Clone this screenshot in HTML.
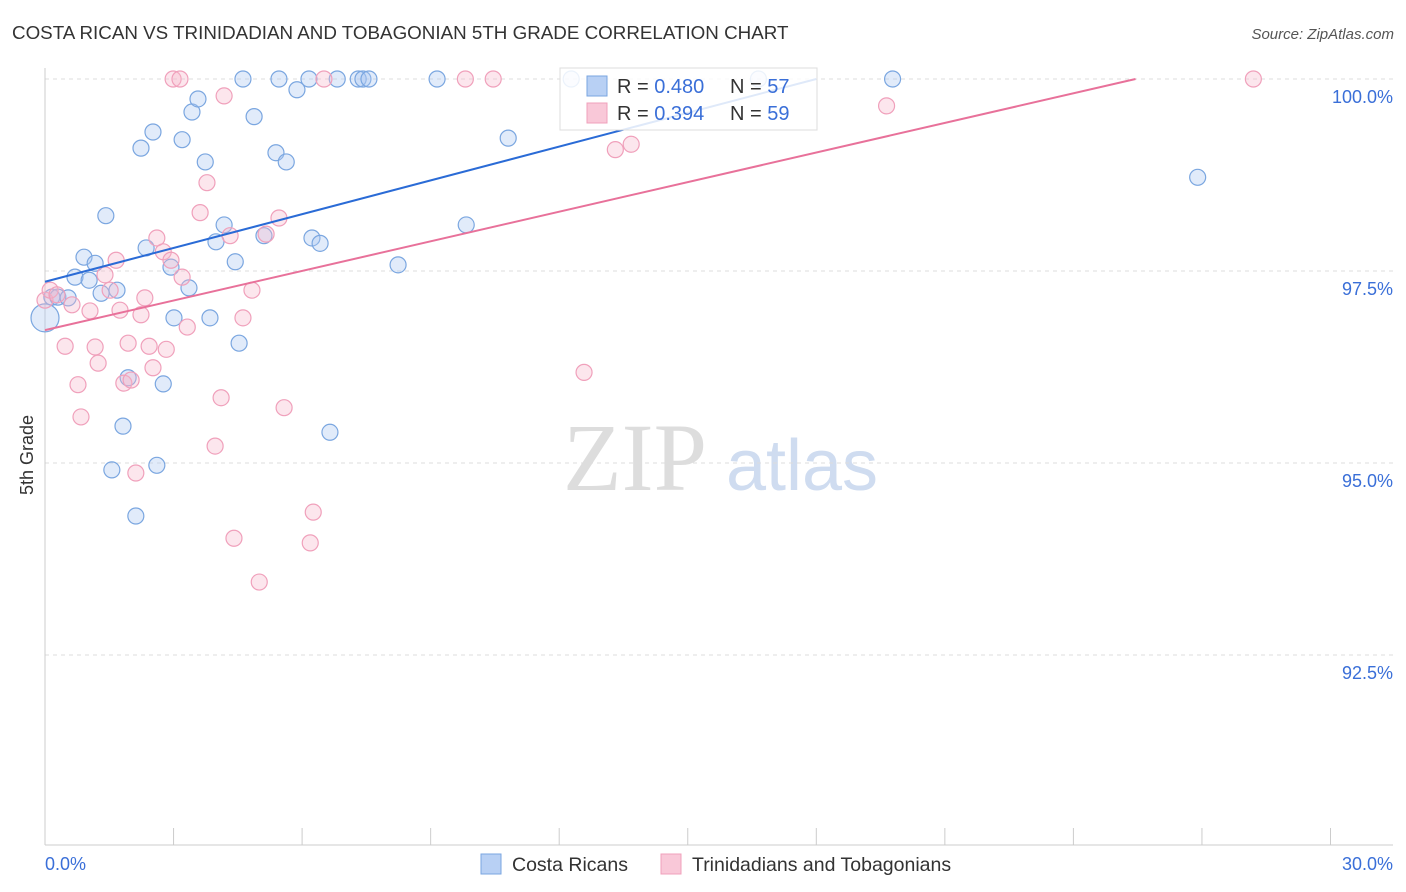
<!DOCTYPE html>
<html><head><meta charset="utf-8"><style>
body{margin:0;background:#fff;font-family:"Liberation Sans",sans-serif;}
#wrap{position:relative;width:1406px;height:892px;overflow:hidden;}
</style></head><body>
<div id="wrap">
<svg id="svg" width="1406" height="892" xmlns="http://www.w3.org/2000/svg">
<text x="12" y="39" font-size="18.8" fill="#333">COSTA RICAN VS TRINIDADIAN AND TOBAGONIAN 5TH GRADE CORRELATION CHART</text>
<text x="1394" y="39" font-size="15" fill="#555" font-style="italic" text-anchor="end">Source: ZipAtlas.com</text>
<text x="33" y="455" font-size="18" fill="#333" text-anchor="middle" transform="rotate(-90 33 455)">5th Grade</text>
<g><text x="635" y="490" font-size="96" fill="#ddd" font-family="Liberation Serif" text-anchor="middle">ZIP</text><text x="802" y="490" font-size="72" fill="#cfdcf0" text-anchor="middle">atlas</text></g>
<g id="grid"></g><g id="axes"></g><g id="pts"></g><g id="lines"></g>
<g>
<rect x="560" y="68" width="257" height="62" fill="#fff" fill-opacity="0.85" stroke="#ddd"/>
<rect x="587" y="76" width="20" height="20" fill="#b8d0f4" stroke="#7aa6e0"/>
<text x="617" y="93" font-size="20" fill="#333">R = <tspan fill="#3a6fd8">0.480</tspan></text>
<text x="730" y="93" font-size="20" fill="#333">N = <tspan fill="#3a6fd8">57</tspan></text>
<rect x="587" y="103" width="20" height="20" fill="#f9c8d8" stroke="#f0a0bb"/>
<text x="617" y="120" font-size="20" fill="#333">R = <tspan fill="#3a6fd8">0.394</tspan></text>
<text x="730" y="120" font-size="20" fill="#333">N = <tspan fill="#3a6fd8">59</tspan></text>
</g>
<g>
<rect x="481" y="854" width="20" height="20" fill="#b8d0f4" stroke="#7aa6e0"/>
<text x="512" y="871" font-size="19.5" fill="#333">Costa Ricans</text>
<rect x="661" y="854" width="20" height="20" fill="#f9c8d8" stroke="#f0a0bb"/>
<text x="692" y="871" font-size="19.5" fill="#333">Trinidadians and Tobagonians</text>
</g>
</svg>
</div>
<script>
const blueX=[0,0.16,0.30,0.54,0.70,0.91,1.03,1.17,1.31,1.42,1.56,1.68,1.82,1.94,2.12,2.24,2.36,2.52,2.61,2.76,2.94,3.01,3.20,3.36,3.43,3.57,3.74,3.85,3.99,4.18,4.44,4.53,4.62,4.88,5.11,5.39,5.46,5.63,5.88,6.16,6.23,6.42,6.65,6.82,7.31,7.42,7.56,8.24,9.15,9.83,10.81,12.28,16.65,19.78,26.90];
const blueY=[96.89,97.16,97.16,97.15,97.42,97.68,97.38,97.60,97.21,98.22,94.91,97.25,95.48,96.11,94.31,99.10,97.80,99.31,94.97,96.03,97.55,96.89,99.21,97.28,99.57,99.74,98.92,96.89,97.88,98.10,97.62,96.56,100,99.51,97.96,99.04,100,98.92,99.86,100,97.93,97.86,95.40,100,100,100,100,97.58,100,98.10,99.23,100,100,100,98.72];
const pinkX=[0,0.12,0.28,0.47,0.63,0.77,0.84,1.05,1.17,1.24,1.40,1.52,1.66,1.75,1.84,1.94,2.01,2.12,2.24,2.33,2.43,2.52,2.61,2.76,2.83,2.94,2.99,3.15,3.20,3.32,3.62,3.78,3.97,4.11,4.18,4.32,4.41,4.62,4.83,5.00,5.16,5.46,5.58,6.19,6.26,6.51,9.81,10.46,12.58,13.31,13.68,19.64,28.20];
const pinkY=[97.12,97.25,97.19,96.52,97.06,96.02,95.60,96.98,96.51,96.30,97.45,97.25,97.64,96.99,96.04,96.56,96.08,94.87,96.93,97.15,96.52,96.24,97.93,97.75,96.48,97.64,100,100,97.42,96.77,98.26,98.65,95.22,95.85,99.78,97.96,94.02,96.89,97.25,93.45,97.98,98.19,95.72,93.96,94.36,100,100,100,96.18,99.08,99.15,99.65,100];
const blueTrend=[[0,97.36],[18.0,100]];
const pinkTrend=[[0,96.73],[25.45,100]];
const yTicks=[100,97.5,95,92.5];
const yTickLabels=["100.0%","97.5%","95.0%","92.5%"];
const xTicks=[0,3,6,9,12,15,18,21,24,27,30];
const NS="http://www.w3.org/2000/svg";
const sx=v=>45+v*42.85, sy=v=>79+(100-v)*76.8;
function mk(t,a,p){const e=document.createElementNS(NS,t);for(const k in a)e.setAttribute(k,a[k]);p.appendChild(e);return e;}
const grid=document.getElementById('grid'),axes=document.getElementById('axes'),pts=document.getElementById('pts'),lines=document.getElementById('lines');
yTicks.forEach((t,i)=>{
 const l=mk('line',{x1:45,x2:1393,y1:sy(t),y2:sy(t),stroke:'#ddd','stroke-dasharray':'4,4'},grid);
 
 
 const tx=mk('text',{x:1393,y:sy(t)+24,'font-size':18,fill:'#3a6fd8','text-anchor':'end'},axes);
 tx.textContent=yTickLabels[i];
 
 
});
let a=mk('line',{x1:45,x2:45,y1:68,y2:845,stroke:'#ccc'},axes);


a=mk('line',{x1:45,x2:1393,y1:845,y2:845,stroke:'#ccc'},axes);


xTicks.forEach(t=>{
 const l=mk('line',{x1:sx(t),x2:sx(t),y1:828,y2:845,stroke:'#ccc'},axes);
 
 
});
let t0=mk('text',{x:45,y:870,'font-size':18,fill:'#3a6fd8'},axes);t0.textContent="0.0%";


t0=mk('text',{x:1393,y:870,'font-size':18,fill:'#3a6fd8','text-anchor':'end'},axes);t0.textContent="30.0%";


function series(X,Y,fill,stroke,name){
 X.forEach((x,i)=>{
  const c=mk('circle',{cx:sx(x),cy:sy(Y[i]),r:(name==='blue'&&i===0)?14:8,fill:fill,'fill-opacity':0.35,stroke:stroke,'stroke-width':1.2},pts);
  
  
 });
}
series(blueX,blueY,'#a9c6f0','#7aa6e0','blue');
series(pinkX,pinkY,'#f6b6cc','#f0a0bb','pink');
let tl=mk('line',{x1:sx(blueTrend[0][0]),y1:sy(blueTrend[0][1]),x2:sx(blueTrend[1][0]),y2:sy(blueTrend[1][1]),stroke:'#2a6bd6','stroke-width':2},lines);


tl=mk('line',{x1:sx(pinkTrend[0][0]),y1:sy(pinkTrend[0][1]),x2:sx(pinkTrend[1][0]),y2:sy(pinkTrend[1][1]),stroke:'#e8719a','stroke-width':2},lines);


</script>
</body></html>
